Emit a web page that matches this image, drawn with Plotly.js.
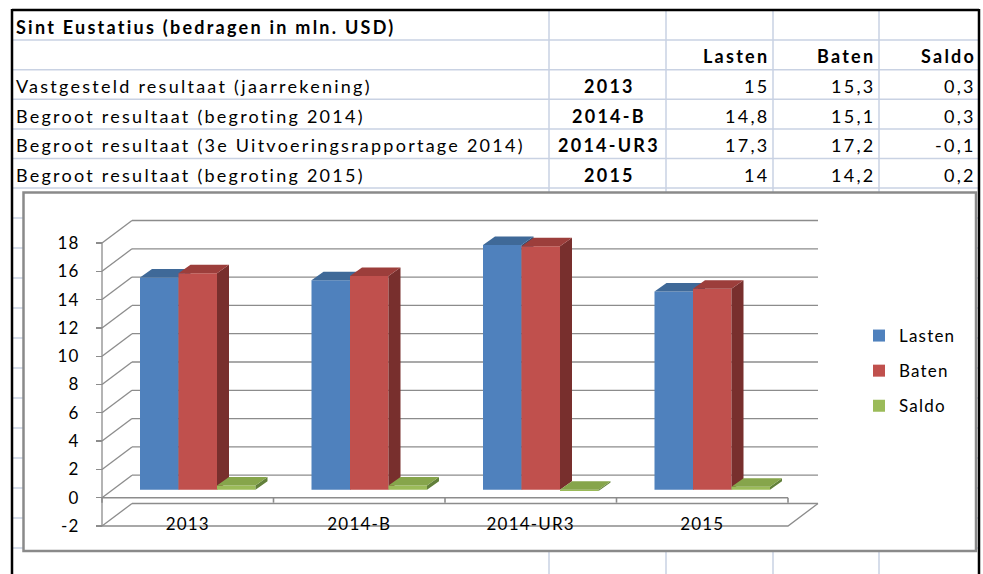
<!DOCTYPE html>
<html><head><meta charset="utf-8">
<script src="https://cdn.plot.ly/plotly-3.0.1.min.js"></script>
<style>
html,body{margin:0;padding:0;background:#fff}
#chart{width:983px;height:574px}
text.annotation-text{letter-spacing:2.25px}
g.xtick text, g.ytick text, text.legendtext{letter-spacing:1.2px}
</style>
</head><body><div id="chart"></div>
<script>
// ---------- data ----------
const tableTitle = 'Sint Eustatius (bedragen in mln. USD)';
const rowLabels = ['Vastgesteld resultaat (jaarrekening)', 'Begroot resultaat (begroting 2014)', 'Begroot resultaat (3e Uitvoeringsrapportage 2014)', 'Begroot resultaat (begroting 2015)'];
const categories = ['2013', '2014-B', '2014-UR3', '2015'];
const seriesNames = ['Lasten', 'Baten', 'Saldo'];
const lasten = [15, 14.8, 17.3, 14];
const baten = [15.3, 15.1, 17.2, 14.2];
const saldo = [0.3, 0.3, -0.1, 0.2];
const yTicks = [-2, 0, 2, 4, 6, 8, 10, 12, 14, 16, 18];

// ---------- geometry & style ----------
const W = 983, H = 574;
const FONT = 'Lato, "Open Sans", sans-serif';
const PX = 171.5, PY = 14.15;          // pixels per category / per value unit
const X0PX = 187.75, Y0PX = 497.7;     // pixel of category 0 centre / value 0 on front plane
const xr = [-X0PX / PX, (W - X0PX) / PX];
const yr = [(Y0PX - H) / PY, Y0PX / PY];
const WDx = 30 / PX, WDv = 22.5 / PY;  // wall depth
const BFx = 10 / PX, BFv = 8 / PY;     // bar front offset
const BDx = 12 / PX, BDv = 8.5 / PY;   // bar depth
const BW = 38.5 / PX;                  // bar width
const GRID = '#8C8C8C';
const SHEET = '#C9D2E3';
const front = ['#4F81BD', '#C0504D', '#9BBB59'];
const topC = ['#3F6998', '#9C3E3B', '#86A54B'];
const sideC = ['#2F4E74', '#782F2D', '#62803A'];

const idx = categories.map((c, i) => i);
const xL = -0.5, xR = categories.length - 0.5;
const vMin = yTicks[0], vMax = yTicks[yTicks.length - 1];
const series = [lasten, baten, saldo];
const fmt = v => String(v).replace('.', ',');

function seg(arrX, arrY, pts) { pts.forEach(p => { arrX.push(p ? p[0] : null); arrY.push(p ? p[1] : null); }); }
function lineTrace(pts, extra) {
  const x = [], y = []; seg(x, y, pts);
  return Object.assign({type: 'scatter', mode: 'lines', x, y, line: {color: GRID, width: 1.3}, hoverinfo: 'skip', showlegend: false, xaxis: 'x', yaxis: 'y'}, extra || {});
}

const traces = [];
// back wall gridlines
let pts = [];
yTicks.forEach(v => { pts.push([xL + WDx, v + WDv], [xR + WDx, v + WDv], null); });
traces.push(lineTrace(pts));
// left wall diagonals
pts = [];
yTicks.forEach(v => { pts.push([xL, v], [xL + WDx, v + WDv], null); });
traces.push(lineTrace(pts));
// y axis line, floor front edge, floor right diagonal
traces.push(lineTrace([[xL, vMin], [xL, vMax], null, [xL, vMin], [xR, vMin], [xR + WDx, vMin + WDv]]));
// category axis at 0 with boundary ticks
pts = [[xL, 0], [xR, 0], null];
for (let b = 0; b <= categories.length; b++) pts.push([xL + b, 0], [xL + b, -5 / PY], null);
traces.push(lineTrace(pts, {line: {color: GRID, width: 1.6}}));

// bars (each series on its own overlaid subplot so later series paint over earlier ones)
series.forEach((vals, k) => {
  const xa = 'x' + (k + 2), ya = 'y' + (k + 2);
  const off = BFx - 1.5 * BW + k * BW;
  traces.push({type: 'bar', name: seriesNames[k], x: idx, y: vals, base: BFv, width: BW, offset: off,
    marker: {color: front[k], line: {width: 0}}, xaxis: xa, yaxis: ya, legendgroup: 'g' + k, hoverinfo: 'skip'});
  const tx = [], ty = [], sx = [], sy = [];
  vals.forEach((v, i) => {
    const L = i + off, R = L + BW, t = BFv + Math.max(v, 0), b = BFv + Math.min(v, 0);
    seg(tx, ty, [[L, t], [R, t], [R + BDx, t + BDv], [L + BDx, t + BDv], [L, t], null]);
    seg(sx, sy, [[R, b], [R, t], [R + BDx, t + BDv], [R + BDx, b + BDv], [R, b], null]);
  });
  traces.push({type: 'scatter', mode: 'lines', x: sx, y: sy, fill: 'toself', fillcolor: sideC[k], line: {width: 0, color: sideC[k]}, xaxis: xa, yaxis: ya, showlegend: false, hoverinfo: 'skip'});
  traces.push({type: 'scatter', mode: 'lines', x: tx, y: ty, fill: 'toself', fillcolor: topC[k], line: {width: 0, color: topC[k]}, xaxis: xa, yaxis: ya, showlegend: false, hoverinfo: 'skip'});
});

// ---------- spreadsheet table (cell texts as annotations, grid as shapes) ----------
const ROWH = 29.6, TOP = 10.5;
const rowY = r => 1 - (TOP + ROWH * (r + 0.5) + 1.5) / H;
const annotations = [];
const cell = (text, r, x, xanchor) => annotations.push({xref: 'paper', yref: 'paper', x: x / W, y: rowY(r), xanchor, yanchor: 'middle',
  align: xanchor === 'center' ? 'center' : xanchor, text, showarrow: false, borderpad: 0,
  font: {family: FONT, size: 18, color: '#000'}});
const colRight = [770, 876, 977];
cell('<b>' + tableTitle + '</b>', 0, 15, 'left');
seriesNames.forEach((n, k) => cell('<b>' + n + '</b>', 1, colRight[k], 'right'));
rowLabels.forEach((lab, i) => {
  cell(lab, i + 2, 15, 'left');
  cell('<b>' + categories[i] + '</b>', i + 2, 609, 'center');
  series.forEach((vals, k) => cell(fmt(vals[i]), i + 2, colRight[k], 'right'));
});

const shapes = [];
const pl = (x0, y0, x1, y1, color, width) => ({type: 'line', xref: 'paper', yref: 'paper', x0: x0 / W, x1: x1 / W, y0: 1 - y0 / H, y1: 1 - y1 / H, line: {color, width}, layer: 'below'});
for (let k = 1; k <= 19; k++) {
  const y = k <= 6 ? TOP + k * ROWH : TOP + 6 * ROWH + (k - 6) * 30;
  shapes.push(pl(12, y, 979, y, SHEET, 1.5));
}
[549, 666, 773, 879].forEach(x => shapes.push(pl(x, TOP, x, H, SHEET, 1.5)));
shapes.push(pl(12, 10, 979, 10, '#000', 2.5));
shapes.push(pl(12, 9, 12, H, '#000', 2.5));
shapes.push(pl(979, 9, 979, H, '#000', 2.5));
shapes.push({type: 'rect', xref: 'paper', yref: 'paper', x0: 23.5 / W, x1: 976 / W, y0: 1 - 551 / H, y1: 1 - 192.5 / H,
  fillcolor: '#fff', line: {color: '#8A8A8A', width: 2.5}, layer: 'below'});

// ---------- layout ----------
const layout = {
  width: W, height: H, margin: {l: 0, r: 0, t: 0, b: 0},
  paper_bgcolor: '#fff', plot_bgcolor: 'rgba(0,0,0,0)',
  font: {family: FONT, size: 17, color: '#000'},
  showlegend: true,
  legend: {x: 859 / W, y: 1 - 318 / H, xanchor: 'left', yanchor: 'top', bgcolor: 'rgba(0,0,0,0)',
    font: {family: FONT, size: 17, color: '#000'}, tracegroupgap: 10},
  xaxis: {domain: [0, 1], range: xr, anchor: 'free', position: 1 - 512 / H, tickmode: 'array', tickvals: idx, ticktext: categories,
    ticks: '', showgrid: false, zeroline: false, showline: false, fixedrange: true, tickfont: {family: FONT, size: 17, color: '#000'}},
  yaxis: {domain: [0, 1], range: yr, anchor: 'free', position: 102 / W, tickmode: 'array', tickvals: yTicks, ticktext: yTicks.map(String),
    ticks: 'outside', ticklen: 6, tickwidth: 1.3, tickcolor: GRID, ticklabelstandoff: 13,
    showgrid: false, zeroline: false, showline: false, fixedrange: true, tickfont: {family: FONT, size: 17, color: '#000'}},
  barmode: 'overlay',
  shapes: shapes,
  annotations: annotations
};
for (let k = 2; k <= 4; k++) {
  layout['xaxis' + k] = {overlaying: 'x', anchor: 'y' + k, range: xr, visible: false, fixedrange: true};
  layout['yaxis' + k] = {overlaying: 'y', anchor: 'x' + k, range: yr, visible: false, fixedrange: true};
}

Plotly.newPlot('chart', traces, layout, {staticPlot: true, displayModeBar: false});
</script>
</body></html>
